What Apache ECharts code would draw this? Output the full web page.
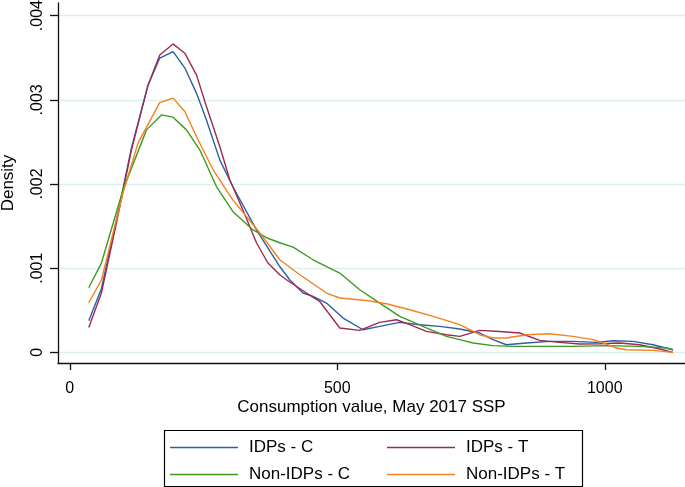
<!DOCTYPE html>
<html>
<head>
<meta charset="utf-8">
<script src="https://cdn.jsdelivr.net/npm/echarts@6/dist/echarts.min.js"></script>
<style>html,body{margin:0;padding:0;background:#fff;}#c{width:685px;height:487px;}</style>
</head>
<body>
<div id="c"></div>
<script>
// Consumption value (x) and density (y, in 0.001 units) for each group
const xIdpC = [35.5,59.3,87.3,115.3,146.4,168.2,193.1,215,236.8,255.5,280.4,304.7,349,392.5,411,436,454.8,479.8,511,548,579.4,616.8,654,691.6,729,766.4,791,816,853.6,897,940.7,984.5,1015.5,1053,1090,1127.7];
const yIdpC = [0.376,0.76,1.575,2.43,3.177,3.496,3.573,3.38,3.08,2.76,2.287,1.97,1.455,1.02,0.863,0.705,0.665,0.586,0.408,0.269,0.309,0.356,0.329,0.309,0.278,0.23,0.151,0.091,0.112,0.131,0.131,0.119,0.139,0.131,0.091,0.032];

const xIdpT = [35.5,59.3,87.3,115.3,146.4,168.2,193.1,214.95,236.8,255.5,280.4,299.1,323.4,349,370,392.5,405,442.4,467.3,504.7,542,579.4,610.7,635.5,666.7,704,729,766,803.7,841,878.5,916,953,990.7,1028,1065,1103,1127.7];
const yIdpT = [0.297,0.709,1.539,2.406,3.177,3.533,3.664,3.554,3.296,2.92,2.445,2.05,1.694,1.302,1.065,0.922,0.863,0.705,0.605,0.29,0.261,0.356,0.388,0.329,0.249,0.21,0.19,0.261,0.249,0.23,0.142,0.119,0.1,0.103,0.112,0.091,0.04,0.0];

const xNonC = [35.5,59.3,99.6,143.4,171.4,193.1,218.1,243,274.2,304.7,342,367.7,392.5,417.4,454.8,504.7,542,579.4,616.8,666.7,704,729,753.8,791,828.6,878.5,940.7,1003,1065,1115,1127.7];
const yNonC = [0.768,1.064,1.931,2.643,2.821,2.794,2.643,2.406,1.97,1.674,1.457,1.362,1.302,1.251,1.1,0.942,0.744,0.586,0.427,0.29,0.19,0.151,0.112,0.08,0.071,0.071,0.071,0.08,0.071,0.052,0.032];

const xNonT = [35.5,59.3,99.6,127.7,168.2,193.1,215,236.8,267.9,304.7,355,392.5,430,479.8,504.7,554.6,592,635.5,679,729,766.4,791,816,853.6,897,940.7,978,996.8,1022,1040.6,1090,1127.7];
const yNonT = [0.59,0.863,1.896,2.489,2.967,3.02,2.861,2.564,2.169,1.812,1.421,1.1,0.922,0.705,0.646,0.617,0.578,0.507,0.427,0.329,0.21,0.171,0.171,0.21,0.222,0.19,0.151,0.112,0.052,0.032,0.024,0.0];

const xTicks = [0, 500, 1000];
const xTickLabels = ['0', '500', '1000'];
const yTicks = [0, 0.001, 0.002, 0.003, 0.004];
const yTickLabels = ['0', '.001', '.002', '.003', '.004'];
const seriesNames = ['IDPs - C', 'IDPs - T', 'Non-IDPs - C', 'Non-IDPs - T'];
const colors = ['#2b5fa6', '#9e2a52', '#3d9a22', '#f3821e'];

function pairs(xs, ys) { return xs.map((x, i) => [x, ys[i] / 1000]); }
const allData = [pairs(xIdpC, yIdpC), pairs(xIdpT, yIdpT), pairs(xNonC, yNonC), pairs(xNonT, yNonT)];
function pick(ticks, labels, v) { const i = ticks.findIndex(t => Math.abs(t - v) < 1e-9); return i >= 0 ? labels[i] : ''; }

const FONT = '"Liberation Sans", Arial, sans-serif';
const chart = echarts.init(document.getElementById('c'), null, {renderer: 'canvas'});

const legendPos = [
  {left: 170, top: 439},
  {left: 387, top: 439},
  {left: 170, top: 466},
  {left: 387, top: 466}
];

chart.setOption({
  animation: false,
  backgroundColor: '#fff',
  color: colors,
  grid: {left: 58, right: 0, top: 3, bottom: 124, containLabel: false, outerBoundsMode: 'none'},
  xAxis: {
    type: 'value', min: -22, max: 1150,
    axisLine: {show: true, onZero: false, lineStyle: {color: '#111', width: 1.3}},
    axisTick: {show: true, length: 7, customValues: xTicks, lineStyle: {color: '#111', width: 1.3}},
    axisLabel: {customValues: xTicks, color: '#000', fontSize: 16, fontFamily: FONT, margin: 18,
      formatter: v => pick(xTicks, xTickLabels, v)},
    splitLine: {show: false},
    name: 'Consumption value, May 2017 SSP', nameLocation: 'middle', nameGap: 36, nameMoveOverlap: false,
    nameTextStyle: {color: '#000', fontSize: 17, fontFamily: FONT}
  },
  yAxis: {
    type: 'value', min: -0.000126, max: 0.00415,
    axisLine: {show: true, onZero: false, lineStyle: {color: '#111', width: 1.3}},
    axisTick: {show: true, length: 8, customValues: yTicks, lineStyle: {color: '#111', width: 1.3}},
    axisLabel: {customValues: yTicks, rotate: 90, color: '#000', fontSize: 16, fontFamily: FONT, margin: 12,
      formatter: v => pick(yTicks, yTickLabels, v)},
    splitLine: {show: true, lineStyle: {color: '#dcefed', width: 1.3}},
    name: 'Density', nameLocation: 'middle', nameGap: 41, nameRotate: 90, nameMoveOverlap: false,
    nameTextStyle: {color: '#000', fontSize: 17, fontFamily: FONT}
  },
  legend: seriesNames.map((n, i) => ({
    data: [n], left: legendPos[i].left, top: legendPos[i].top,
    icon: 'rect', itemWidth: 68, itemHeight: 1.6, itemGap: 0, padding: 0,
    textStyle: {color: '#000', fontSize: 17, fontFamily: FONT, padding: [0, 0, 0, 6]}
  })),
  graphic: [{
    type: 'rect', left: 162, top: 428, z: 100,
    shape: {width: 418, height: 56},
    style: {fill: 'none', stroke: '#000', lineWidth: 1.2}
  }],
  series: seriesNames.map((n, i) => ({
    name: n, type: 'line', data: allData[i], symbol: 'none', smooth: false,
    lineStyle: {width: 1.4, color: colors[i]}, itemStyle: {color: colors[i]}
  }))
});
</script>
</body>
</html>
